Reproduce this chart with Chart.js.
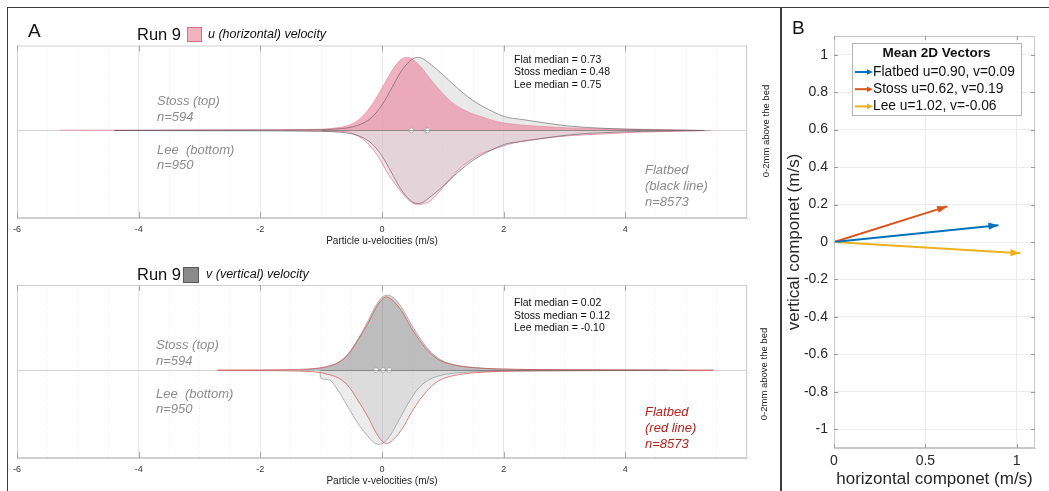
<!DOCTYPE html>
<html>
<head>
<meta charset="utf-8">
<script src="https://cdn.jsdelivr.net/npm/chart.js@4.4.1/dist/chart.umd.min.js"></script>
<style>
  html, body { margin: 0; padding: 0; background: #fff; }
  #fig { position: relative; width: 1049px; height: 491px; overflow: hidden; background: #fff;
         font-family: "Liberation Sans", Arial, Helvetica, sans-serif; }
  #fig canvas { position: absolute; }
  .t { position: absolute; white-space: nowrap; line-height: 1; transform: translateY(-50%); }
  .note { font-style: italic; font-size: 13px; color: #8c8c8c; }
  .red { color: #b0241f; }
  .med { font-size: 10.5px; color: #111; }
  .ttl { font-size: 16.5px; color: #111; }
  .sub { font-style: italic; font-size: 12.5px; color: #111; }
  .lbl { font-size: 19px; color: #111; }
  .side { position: absolute; white-space: nowrap; font-size: 9.5px; color: #222; line-height: 1;
          transform: translate(-50%, -50%) rotate(-90deg); }
  .sw { position: absolute; box-sizing: border-box; }
  .rule { position: absolute; background: #3a3a3a; }
</style>
</head>
<body>
<div id="fig">
  <canvas id="cu" width="775" height="219" style="left:0;top:30px;"></canvas>
  <canvas id="cv" width="775" height="219" style="left:0;top:270px;"></canvas>
  <canvas id="cb" width="274" height="491" style="left:775px;top:0;"></canvas>

  <div class="rule" style="left:7px;top:6.5px;width:1042px;height:1.3px;"></div>
  <div class="rule" style="left:7px;top:6.5px;width:1.3px;height:485px;"></div>
  <div class="rule" style="left:780px;top:6.5px;width:1.5px;height:485px;"></div>

  <div class="t lbl" style="left:28px;top:30px;">A</div>
  <div class="t lbl" style="left:792px;top:27px;">B</div>

  <div class="t ttl" style="left:137px;top:34px;">Run 9</div>
  <div class="sw" style="left:187px;top:27px;width:15px;height:15px;background:#f2b3c0;border:1px solid #d9707f;"></div>
  <div class="t sub" style="left:208px;top:33.5px;">u (horizontal) velocity</div>

  <div class="t note" style="left:157px;top:99.5px;">Stoss (top)</div>
  <div class="t note" style="left:157px;top:115.5px;">n=594</div>
  <div class="t note" style="left:157px;top:148.5px;">Lee&nbsp; (bottom)</div>
  <div class="t note" style="left:157px;top:164px;">n=950</div>
  <div class="t note" style="left:645px;top:168.5px;">Flatbed</div>
  <div class="t note" style="left:645px;top:185px;">(black line)</div>
  <div class="t note" style="left:645px;top:201px;">n=8573</div>
  <div class="t med" style="left:514px;top:58.5px;">Flat median = 0.73</div>
  <div class="t med" style="left:514px;top:71px;">Stoss median = 0.48</div>
  <div class="t med" style="left:514px;top:83.5px;">Lee median = 0.75</div>
  <div class="side" style="left:766px;top:131px;">0-2mm above the bed</div>

  <div class="t ttl" style="left:137px;top:274px;">Run 9</div>
  <div class="sw" style="left:183px;top:267px;width:16px;height:16px;background:#8a8a8a;border:1px solid #5a5a5a;"></div>
  <div class="t sub" style="left:206px;top:273.5px;">v (vertical) velocity</div>

  <div class="t note" style="left:156px;top:343.5px;">Stoss (top)</div>
  <div class="t note" style="left:156px;top:359.5px;">n=594</div>
  <div class="t note" style="left:156px;top:392.5px;">Lee&nbsp; (bottom)</div>
  <div class="t note" style="left:156px;top:408px;">n=950</div>
  <div class="t note red" style="left:645px;top:411px;">Flatbed</div>
  <div class="t note red" style="left:645px;top:427px;">(red line)</div>
  <div class="t note red" style="left:645px;top:443px;">n=8573</div>
  <div class="t med" style="left:514px;top:302px;">Flat median = 0.02</div>
  <div class="t med" style="left:514px;top:314.5px;">Stoss median = 0.12</div>
  <div class="t med" style="left:514px;top:327px;">Lee median = -0.10</div>
  <div class="side" style="left:764px;top:373.5px;">0-2mm above the bed</div>
</div>

<script>
// ---------- u (horizontal) velocity densities ----------
const uStossX = [-5.3, -4.5, -3.5, -2.5, -1.8, -1.3, -1.0, -0.82, -0.66, -0.49, -0.33, -0.16, 0, 0.16, 0.25, 0.32, 0.39, 0.46, 0.55, 0.66, 0.82, 0.98, 1.15, 1.38, 1.64, 1.92, 2.2, 2.57, 3.1, 3.66, 4.2, 4.75, 5.3];
const uStossD = [0.004, 0.005, 0.006, 0.008, 0.01, 0.012, 0.015, 0.025, 0.04, 0.08, 0.16, 0.31, 0.50, 0.70, 0.79, 0.84, 0.86, 0.855, 0.81, 0.73, 0.58, 0.45, 0.33, 0.23, 0.16, 0.10, 0.07, 0.05, 0.03, 0.02, 0.015, 0.01, 0];

const uFlatX = [-4.4, -3, -2, -1.4, -1.0, -0.8, -0.5, -0.3, -0.16, 0, 0.16, 0.3, 0.42, 0.51, 0.58, 0.66, 0.76, 0.9, 1.1, 1.3, 1.5, 1.8, 2.03, 2.3, 2.57, 3.1, 3.66, 4.3, 5.3];
const uFlatD = [0, 0.003, 0.005, 0.007, 0.01, 0.015, 0.04, 0.09, 0.16, 0.30, 0.50, 0.68, 0.79, 0.845, 0.86, 0.85, 0.80, 0.72, 0.59, 0.46, 0.35, 0.23, 0.16, 0.13, 0.10, 0.05, 0.025, 0.01, 0];

const uLeeX = [-1.6, -1.0, -0.7, -0.54, -0.38, -0.21, -0.05, 0.11, 0.28, 0.44, 0.52, 0.6, 0.69, 0.79, 0.93, 1.1, 1.26, 1.43, 1.64, 1.92, 2.2, 2.57, 3.1, 3.66, 4.2, 4.8, 5.4];
const uLeeD = [0, 0.005, 0.01, 0.02, 0.07, 0.17, 0.32, 0.52, 0.69, 0.82, 0.86, 0.87, 0.86, 0.83, 0.73, 0.59, 0.46, 0.36, 0.27, 0.20, 0.14, 0.10, 0.06, 0.04, 0.02, 0.01, 0];

const uMedians = [0.73, 0.48, 0.75];   // flat, stoss, lee

// ---------- v (vertical) velocity densities ----------
const vStossX = [-1.35, -1.2, -1.05, -0.88, -0.72, -0.56, -0.39, -0.23, -0.1, 0.0, 0.09, 0.18, 0.32, 0.48, 0.65, 0.81, 0.97, 1.2, 1.52, 1.9, 2.5, 3.3, 4.0, 4.7];
const vStossD = [0, 0.01, 0.02, 0.04, 0.09, 0.19, 0.37, 0.58, 0.76, 0.855, 0.88, 0.855, 0.74, 0.54, 0.35, 0.21, 0.12, 0.06, 0.03, 0.015, 0.008, 0.005, 0.003, 0];

const vFlatX = [-2.7, -2.0, -1.5, -1.2, -1.0, -0.88, -0.72, -0.56, -0.4, -0.23, -0.1, 0.0, 0.07, 0.15, 0.32, 0.48, 0.65, 0.81, 0.97, 1.2, 1.52, 1.9, 2.5, 3.5, 4.5, 5.45];
const vFlatD = [0, 0.004, 0.008, 0.015, 0.03, 0.05, 0.09, 0.18, 0.35, 0.55, 0.73, 0.83, 0.86, 0.835, 0.70, 0.50, 0.32, 0.19, 0.11, 0.06, 0.03, 0.015, 0.008, 0.005, 0.003, 0];

const vLeeX = [-1.02, -1.01, -0.88, -0.72, -0.56, -0.39, -0.25, -0.12, -0.04, 0.04, 0.15, 0.26, 0.43, 0.59, 0.75, 0.97, 1.24, 1.62, 2.2, 3.0, 3.8, 4.7];
const vLeeD = [0, 0.09, 0.11, 0.24, 0.43, 0.63, 0.76, 0.855, 0.87, 0.845, 0.75, 0.61, 0.39, 0.22, 0.12, 0.06, 0.03, 0.015, 0.008, 0.005, 0.003, 0];

const vMedians = [0.02, 0.12, -0.10];  // flat, stoss, lee

// ---------- violin axis ----------
const violinRange = [-6, 6];
const violinTickLabels = [-6, -4, -2, 0, 2, 4];
const violinMinorStep = 0.5;

// ---------- mean 2D vectors ----------
const vecNames = ['Flatbed', 'Stoss', 'Lee'];
const vecU = [0.90, 0.62, 1.02];
const vecV = [0.09, 0.19, -0.06];
const vecColors = ['#0072BD', '#D95319', '#EDB120'];
const vecXTicks = [0, 0.5, 1];
const vecYTicks = [-1, -0.8, -0.6, -0.4, -0.2, 0, 0.2, 0.4, 0.6, 0.8, 1];

const FONT = '"Liberation Sans", Arial, Helvetica, sans-serif';
Chart.defaults.font.family = FONT;

const pts = (xs, ds, sign) => xs.map((x, i) => ({ x: x, y: sign * ds[i] }));

function area(xs, ds, sign, fill, line, lw, order) {
  return {
    data: pts(xs, ds, sign), fill: fill ? 'origin' : false,
    backgroundColor: fill || 'rgba(0,0,0,0)', borderColor: line || 'rgba(0,0,0,0)',
    borderWidth: line ? lw : 0, pointRadius: 0, cubicInterpolationMode: 'monotone', order: order
  };
}

function medianDots(vals) {
  return {
    data: vals.map(v => ({ x: v, y: 0 })), showLine: false, fill: false,
    pointRadius: 2.4, pointBackgroundColor: '#ffffff', pointBorderColor: 'rgba(130,130,130,0.8)',
    pointBorderWidth: 0.6, order: 0
  };
}

// frame, inward ticks and the centre line of a violin panel
function violinDecor(lineFrom, lineTo) {
  return {
    id: 'violinDecor',
    beforeDatasetsDraw(chart) {
      const { ctx, chartArea: a, scales: { y } } = chart;
      const y0 = Math.round(y.getPixelForValue(0)) + 0.5;
      ctx.save();
      ctx.strokeStyle = '#d4d4d4'; ctx.lineWidth = 1;
      ctx.beginPath(); ctx.moveTo(a.left, y0); ctx.lineTo(a.right, y0); ctx.stroke();
      ctx.restore();
    },
    afterDatasetsDraw(chart) {
      const { ctx, scales: { x, y } } = chart;
      const y0 = Math.round(y.getPixelForValue(0)) + 0.5;
      ctx.save();
      ctx.strokeStyle = 'rgba(110,110,110,0.65)'; ctx.lineWidth = 1;
      ctx.beginPath(); ctx.moveTo(x.getPixelForValue(lineFrom), y0); ctx.lineTo(x.getPixelForValue(lineTo), y0); ctx.stroke();
      ctx.restore();
    },
    afterDraw(chart) {
      const { ctx, chartArea: a, scales: { x } } = chart;
      ctx.save();
      ctx.strokeStyle = '#cfcfcf'; ctx.lineWidth = 1;
      ctx.strokeRect(a.left + 0.5, a.top + 0.5, a.right - a.left - 1, a.bottom - a.top - 1);
      ctx.strokeStyle = '#a8a8a8';
      violinTickLabels.forEach(v => {
        const px = Math.round(x.getPixelForValue(v)) + 0.5;
        ctx.beginPath();
        ctx.moveTo(px, a.top); ctx.lineTo(px, a.top + 6);
        ctx.moveTo(px, a.bottom); ctx.lineTo(px, a.bottom - 6);
        ctx.stroke();
      });
      ctx.restore();
    }
  };
}

function violinOptions(title, padTop, tickPad) {
  return {
    responsive: false, animation: false, devicePixelRatio: 1,
    layout: { padding: { left: 17, right: 28, top: padTop, bottom: 0 } },
    plugins: { legend: { display: false }, tooltip: { enabled: false } },
    scales: {
      x: {
        type: 'linear', min: violinRange[0], max: violinRange[1],
        afterBuildTicks: s => {
          const t = [];
          for (let v = violinRange[0]; v <= violinRange[1] + 1e-9; v += violinMinorStep) t.push({ value: Math.round(v * 10) / 10 });
          s.ticks = t;
        },
        afterFit: s => { s.height = 31; },
        ticks: {
          autoSkip: false, maxRotation: 0, padding: tickPad, color: '#333',
          font: { size: 9 },
          callback: v => violinTickLabels.includes(v) ? String(v) : ''
        },
        grid: {
          drawTicks: false,
          color: c => (c.tick && violinTickLabels.includes(c.tick.value)) ? 'rgba(0,0,0,0.09)' : 'rgba(0,0,0,0.07)',
          lineWidth: 1
        },
        border: {
          color: '#cfcfcf',
          dash: c => (c.tick && !violinTickLabels.includes(c.tick.value)) ? [1, 2] : []
        },
        title: { display: true, text: title, color: '#222', font: { size: 10 }, padding: { top: 0, bottom: 2 } }
      },
      y: { type: 'linear', min: -1.03, max: 1, display: false }
    }
  };
}

// ---- u panel ----
new Chart(document.getElementById('cu'), {
  type: 'line',
  data: {
    datasets: [
      area(uFlatX, uFlatD, 1, 'rgba(212,212,212,0.5)', null, 0, 6),
      area(uFlatX, uFlatD, -1, 'rgba(212,212,212,0.5)', null, 0, 6),
      area(uStossX, uStossD, 1, 'rgba(236,140,165,0.68)', 'rgba(226,125,152,0.8)', 0.7, 5),
      area(uLeeX, uLeeD, -1, 'rgba(215,160,178,0.3)', 'rgba(232,140,165,0.9)', 1, 5),
      area(uFlatX, uFlatD, 1, null, 'rgba(70,70,70,0.75)', 0.7, 2),
      area(uFlatX, uFlatD, -1, null, 'rgba(70,70,70,0.75)', 0.7, 2),
      medianDots(uMedians)
    ]
  },
  options: violinOptions('Particle u-velocities (m/s)', 15.5, 6),
  plugins: [violinDecor(-1.0, 5.3)]
});

// ---- v panel ----
new Chart(document.getElementById('cv'), {
  type: 'line',
  data: {
    datasets: [
      area(vFlatX, vFlatD, 1, 'rgba(120,120,120,0.28)', null, 0, 6),
      area(vFlatX, vFlatD, -1, 'rgba(120,120,120,0.14)', null, 0, 6),
      area(vStossX, vStossD, 1, 'rgba(120,120,120,0.28)', 'rgba(150,150,150,0.9)', 0.8, 5),
      area(vLeeX, vLeeD, -1, 'rgba(120,120,120,0.14)', 'rgba(150,150,150,0.9)', 0.8, 5),
      area(vFlatX, vFlatD, 1, null, 'rgba(205,75,75,0.85)', 0.8, 2),
      area(vFlatX, vFlatD, -1, null, 'rgba(205,75,75,0.85)', 0.8, 2),
      medianDots(vMedians)
    ]
  },
  options: violinOptions('Particle v-velocities (m/s)', 15, 6.5),
  plugins: [violinDecor(-1.0, 5.0)]
});

// ---- mean vector panel ----
function arrowHead(ctx, x, y, ang, color, len, half) {
  ctx.save();
  ctx.translate(x, y); ctx.rotate(ang);
  ctx.fillStyle = color;
  ctx.beginPath(); ctx.moveTo(0, 0); ctx.lineTo(-len, -half); ctx.lineTo(-len, half); ctx.closePath(); ctx.fill();
  ctx.restore();
}

const vectorDecor = {
  id: 'vectorDecor',
  afterDatasetsDraw(chart) {
    const { ctx } = chart;
    chart.data.datasets.forEach((ds, i) => {
      const m = chart.getDatasetMeta(i).data;
      const a = Math.atan2(m[1].y - m[0].y, m[1].x - m[0].x);
      arrowHead(ctx, m[1].x, m[1].y, a, ds.borderColor, 10, 3.6);
    });
  },
  afterDraw(chart) {
    const { ctx, chartArea: a, scales: { x, y } } = chart;
    ctx.save();
    ctx.strokeStyle = '#c9c9c9'; ctx.lineWidth = 1;
    ctx.strokeRect(a.left + 0.5, a.top + 0.5, a.right - a.left - 1, a.bottom - a.top - 1);
    ctx.strokeStyle = '#9a9a9a';
    vecXTicks.forEach(v => {
      const px = Math.round(x.getPixelForValue(v)) + 0.5;
      ctx.beginPath(); ctx.moveTo(px, a.top); ctx.lineTo(px, a.top + 4);
      ctx.moveTo(px, a.bottom); ctx.lineTo(px, a.bottom - 4); ctx.stroke();
    });
    vecYTicks.forEach(v => {
      const py = Math.round(y.getPixelForValue(v)) + 0.5;
      ctx.beginPath(); ctx.moveTo(a.left, py); ctx.lineTo(a.left + 4, py);
      ctx.moveTo(a.right, py); ctx.lineTo(a.right - 4, py); ctx.stroke();
    });

    // legend box
    const bx = a.left + 18, by = 43, bw = 169, bh = 72;
    ctx.fillStyle = '#fff'; ctx.fillRect(bx, by, bw, bh);
    ctx.strokeStyle = '#b5b5b5'; ctx.strokeRect(bx + 0.5, by + 0.5, bw, bh);
    ctx.fillStyle = '#111'; ctx.textBaseline = 'middle';
    ctx.font = 'bold 13.5px ' + FONT; ctx.textAlign = 'center';
    ctx.fillText('Mean 2D Vectors', bx + bw / 2, by + 10.5);
    ctx.font = '13.8px ' + FONT; ctx.textAlign = 'left';
    chart.data.datasets.forEach((ds, i) => {
      const ly = by + 29 + i * 17.2;
      ctx.strokeStyle = ds.borderColor; ctx.lineWidth = 2;
      ctx.beginPath(); ctx.moveTo(bx + 3, ly); ctx.lineTo(bx + 16, ly); ctx.stroke();
      arrowHead(ctx, bx + 21, ly, 0, ds.borderColor, 6, 2.8);
      ctx.fillStyle = '#111';
      ctx.fillText(ds.label, bx + 21, ly);
    });
    ctx.restore();
  }
};

new Chart(document.getElementById('cb'), {
  type: 'scatter',
  data: {
    datasets: vecNames.map((n, i) => ({
      label: n + ' u=' + vecU[i].toFixed(2) + ', v=' + vecV[i].toFixed(2),
      data: [{ x: 0, y: 0 }, { x: vecU[i], y: vecV[i] }],
      showLine: true, borderColor: vecColors[i], backgroundColor: vecColors[i],
      borderWidth: 2, pointRadius: 0
    }))
  },
  options: {
    responsive: false, animation: false, devicePixelRatio: 1,
    layout: { padding: { left: 0, right: 14, top: 36, bottom: 0 } },
    plugins: { legend: { display: false }, tooltip: { enabled: false } },
    scales: {
      x: {
        type: 'linear', min: 0, max: 1.1,
        afterBuildTicks: s => { s.ticks = vecXTicks.map(v => ({ value: v })); },
        afterFit: s => { s.height = 43; },
        ticks: { padding: 5, color: '#262626', font: { size: 14 }, maxRotation: 0, autoSkip: false, callback: v => String(v) },
        grid: { drawTicks: false, color: '#ebebeb' },
        border: { color: '#c9c9c9' },
        title: { display: true, text: 'horizontal componet (m/s)', color: '#262626', font: { size: 17 }, padding: { top: 0, bottom: 1 } }
      },
      y: {
        type: 'linear', min: -1.1, max: 1.1,
        afterBuildTicks: s => { s.ticks = vecYTicks.map(v => ({ value: v })); },
        afterFit: s => { s.width = 59; },
        ticks: { padding: 6, color: '#262626', font: { size: 14 }, autoSkip: false, callback: v => String(v) },
        grid: { drawTicks: false, color: '#ebebeb' },
        border: { color: '#c9c9c9' },
        title: { display: true, text: 'vertical componet (m/s)', color: '#262626', font: { size: 17 }, padding: { top: 9, bottom: 0 } }
      }
    }
  },
  plugins: [vectorDecor]
});
</script>
</body>
</html>
